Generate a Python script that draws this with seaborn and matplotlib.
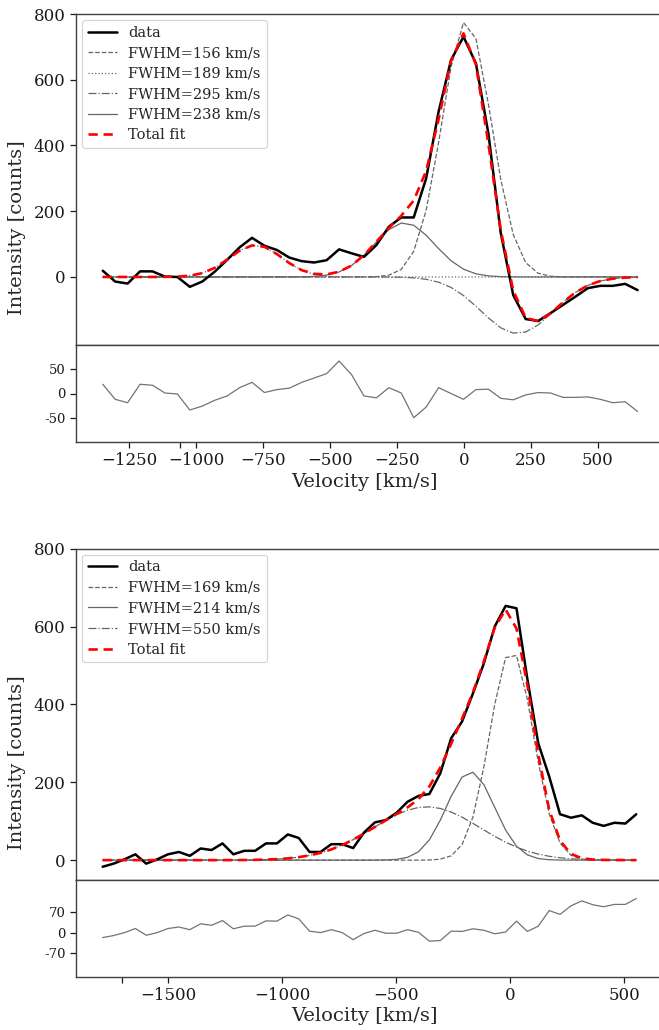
import numpy as np
import pandas as pd
import matplotlib
matplotlib.use("Agg")
import matplotlib.pyplot as plt
import seaborn as sns

# ---------------- upper line profile ----------------
vel_a = [-1350, -1303.5, -1257, -1210.5, -1164, -1117.5, -1071, -1024.5, -978, -931.5,
         -885, -838.5, -792, -745.5, -699, -652.5, -606, -559.5, -513, -466.5,
         -420, -373.5, -327, -280.5, -234, -187.5, -141, -94.5, -48, -1.5,
         45, 91.5, 138, 184.5, 231, 277.5, 324, 370.5, 417, 463.5,
         510, 556.5, 603, 649.5]
flux_a = [19, -14, -20, 17, 17, 1, 0, -30, -14, 16,
          52, 90, 119, 95, 82, 59, 48, 44, 51, 84,
          72, 61, 97, 153, 181, 181, 300, 503, 660, 731,
          650, 437, 133, -55, -128, -134, -110, -85, -60, -34,
          -27, -27, -21, -40]
resid_a = [19, -12, -19, 19, 17, 1, -1, -34, -26, -14,
           -5, 12, 23, 2, 8, 11, 23, 32, 41, 67,
           39, -5, -9, 12, 1, -50, -28, 12, 0, -12,
           8, 9, -10, -13, -3, 2, 1, -8, -8, -7,
           -12, -19, -17, -37]
# fitted Gaussian components: label, amplitude, centre, sigma, line style
comp_a_labels = ["FWHM=156 km/s", "FWHM=189 km/s", "FWHM=295 km/s", "FWHM=238 km/s"]
comp_a_amp = [780, 97, -172, 165]
comp_a_cen = [10, -778, 200, -222]
comp_a_sig = [92, 97, 135, 112]
comp_a_style = ["--", ":", "-.", "-"]

# ---------------- lower line profile ----------------
vel_b = [-1788, -1740.2, -1692.5, -1644.7, -1597, -1549.2, -1501.4, -1453.7, -1405.9, -1358.2,
         -1310.4, -1262.6, -1214.9, -1167.1, -1119.4, -1071.6, -1023.8, -976.1, -928.3, -880.6,
         -832.8, -785.0, -737.3, -689.5, -641.8, -594.0, -546.2, -498.5, -450.7, -403.0,
         -355.2, -307.4, -259.7, -211.9, -164.2, -116.4, -68.6, -20.9, 26.9, 74.6,
         122.4, 170.2, 217.9, 265.7, 313.4, 361.2, 409.0, 456.7, 504.5, 552.2]
flux_b = [-17, -9, 2, 15, -9, 2, 15, 21, 11, 30,
          26, 43, 15, 24, 24, 43, 43, 66, 57, 21,
          21, 41, 41, 31, 71, 97, 103, 122, 150, 165,
          170, 223, 313, 356, 428, 505, 600, 653, 647, 465,
          300, 215, 118, 109, 115, 96, 88, 96, 94, 118]
resid_b = [-16, -9, 1, 15, -8, 1, 15, 20, 11, 31,
           26, 42, 14, 23, 23, 41, 40, 61, 48, 6,
           1, 11, 1, -23, -2, 9, -1, -1, 11, 2,
           -28, -26, 6, 5, 14, 9, -3, 3, 40, 5,
           23, 76, 63, 92, 109, 96, 89, 97, 97, 117]
comp_b_labels = ["FWHM=169 km/s", "FWHM=214 km/s", "FWHM=550 km/s"]
comp_b_amp = [540, 227, 137]
comp_b_cen = [5, -175, -366]
comp_b_sig = [95, 105, 234]
comp_b_style = ["--", "-", "-."]


def gaussian(v, amp, cen, sig):
    v = np.asarray(v, dtype=float)
    return amp * np.exp(-0.5 * ((v - cen) / sig) ** 2)


sns.set_theme(style="ticks")
plt.rcParams["font.family"] = ["DejaVu Serif"]
plt.rcParams["axes.edgecolor"] = "0.25"
plt.rcParams["axes.linewidth"] = 1.0
plt.rcParams["xtick.color"] = "0.1"
plt.rcParams["ytick.color"] = "0.1"

W, H = 659, 1030
fig = plt.figure(figsize=(W / 100, H / 100), dpi=100)


def box(left, top, right, bottom):
    return [left / W, 1 - bottom / H, (right - left) / W, (bottom - top) / H]


def draw_panel(ax_main, ax_res, vel, flux, resid, labels, amps, cens, sigs, styles,
               xlim, ylim_main, ylim_res, res_ticks, xticks, minor_tick, ylabel_y, xlabel_y):
    sns.lineplot(x=vel, y=flux, ax=ax_main, color="black", lw=1.8, label="data",
                 estimator=None, sort=False, zorder=3)
    total = np.zeros(len(vel))
    for lab, a, c, s, ls in zip(labels, amps, cens, sigs, styles):
        prof = gaussian(vel, a, c, s)
        total += prof
        sns.lineplot(x=vel, y=prof, ax=ax_main, color="0.4", lw=0.9, linestyle=ls,
                     label=lab, estimator=None, sort=False, zorder=2)
    sns.lineplot(x=vel, y=total, ax=ax_main, color="red", lw=1.9, label="Total fit",
                 estimator=None, sort=False, zorder=4, dashes=(3.5, 2.2))
    ax_main.set_xlim(*xlim)
    ax_main.set_ylim(*ylim_main)
    ax_main.set_yticks([0, 200, 400, 600, 800])
    ax_main.set_xticks([])
    ax_main.set_xlabel("")
    ax_main.set_ylabel("")
    ax_main.tick_params(axis="y", labelsize=12, length=4, width=0.9)
    leg = ax_main.legend(loc="upper left", fontsize=10.5, frameon=True, fancybox=True,
                         edgecolor="0.8", framealpha=0.85, handlelength=2.0,
                         borderpad=0.4, labelspacing=0.45, borderaxespad=0.4)
    leg.get_frame().set_linewidth(0.8)

    sns.lineplot(x=vel, y=resid, ax=ax_res, color="0.45", lw=0.9,
                 estimator=None, sort=False)
    ax_res.set_xlim(*xlim)
    ax_res.set_ylim(*ylim_res)
    ax_res.set_yticks(res_ticks)
    ax_res.set_yticklabels([f"{t:d}" for t in res_ticks])
    ax_res.set_xticks(xticks)
    ax_res.set_xticks([minor_tick], minor=True)
    ax_res.tick_params(axis="y", labelsize=9.5, length=4, width=0.9)
    ax_res.tick_params(axis="x", which="both", labelsize=12, length=4, width=0.9)
    ax_res.set_ylabel("")
    ax_res.set_xlabel("")

    fig.text(17 / W, 1 - ylabel_y / H, "Intensity [counts]", rotation=90,
             ha="center", va="center", fontsize=14)
    fig.text((76 + 659) / 2 / W - 0.005, 1 - xlabel_y / H, "Velocity [km/s]",
             ha="center", va="center", fontsize=14)


# upper figure
ax1 = fig.add_axes(box(76, 14, 664.5, 345))
ax1r = fig.add_axes(box(76, 345, 664.5, 442))
draw_panel(ax1, ax1r, vel_a, flux_a, resid_a, comp_a_labels, comp_a_amp, comp_a_cen,
           comp_a_sig, comp_a_style, (-1450, 750), (-207, 800), (-100, 100), [50, 0, -50],
           [-1250, -1000, -750, -500, -250, 0, 250, 500], -1062, 228, 482)

# lower figure
ax2 = fig.add_axes(box(76, 548.7, 662.9, 880))
ax2r = fig.add_axes(box(76, 880, 662.9, 977))
draw_panel(ax2, ax2r, vel_b, flux_b, resid_b, comp_b_labels, comp_b_amp, comp_b_cen,
           comp_b_sig, comp_b_style, (-1905, 669), (-51, 800), (-150, 180), [70, 0, -70],
           [-1500, -1000, -500, 0, 500], -1702, 763, 1016)

fig.savefig("out.png", dpi=100)
